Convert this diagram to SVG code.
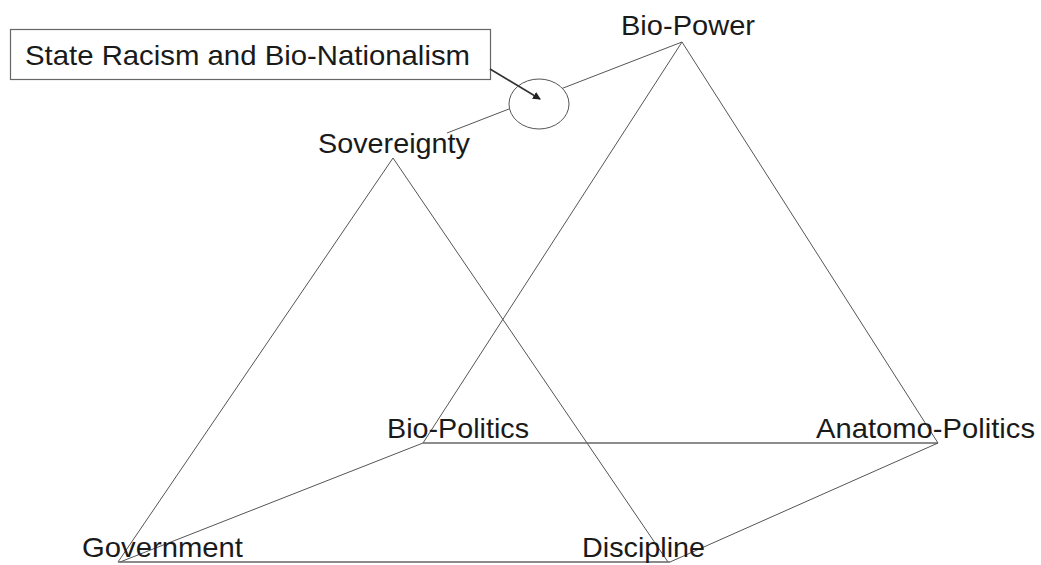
<svg xmlns="http://www.w3.org/2000/svg" width="1041" height="565" viewBox="0 0 1041 565">
<style>
.t{font-family:"Liberation Sans",Arial,sans-serif;font-size:28px;fill:#1a1a1a}
.c{stroke:#555;stroke-width:1;fill:none}
.h{stroke:#666;stroke-width:1.6;fill:none}
</style>
<defs>
<marker id="ah" markerWidth="8" markerHeight="8" refX="7" refY="4" orient="auto" markerUnits="userSpaceOnUse">
<path d="M0,0 L8,4 L0,8 z" fill="#222"/>
</marker>
</defs>
<rect width="1041" height="565" fill="#fff"/>
<g id="connectors">
<line class="c" x1="682" y1="42" x2="447" y2="133"/>
<line class="c" x1="393" y1="158" x2="118" y2="562"/>
<line class="c" x1="393" y1="158" x2="668" y2="562"/>
<line class="c" x1="682" y1="42" x2="423" y2="443"/>
<line class="c" x1="682" y1="42" x2="938" y2="443"/>
<line class="h" x1="423" y1="443" x2="938" y2="443"/>
<line class="c" x1="423" y1="443" x2="120" y2="562"/>
<line class="c" x1="938" y1="443" x2="670" y2="562"/>
<line class="h" x1="118" y1="562" x2="670" y2="562"/>
</g>
<g id="state-racism">
<rect x="10.5" y="29.5" width="480" height="50" fill="#fff" stroke="#666" stroke-width="1.2"/>
<text class="t" x="25" y="65" textLength="445" lengthAdjust="spacingAndGlyphs">State Racism and Bio-Nationalism</text>
</g>
<g id="intersection">
<ellipse cx="539" cy="104" rx="30" ry="25" fill="#fff" stroke="#555" stroke-width="1"/>
<line x1="490" y1="69" x2="540" y2="99" stroke="#333" stroke-width="1.6" marker-end="url(#ah)"/>
</g>
<g id="bio-power"><text class="t" x="621" y="35" textLength="134" lengthAdjust="spacingAndGlyphs">Bio-Power</text></g>
<g id="sovereignty"><text class="t" x="318" y="153" textLength="152" lengthAdjust="spacingAndGlyphs">Sovereignty</text></g>
<g id="bio-politics"><text class="t" x="387" y="438" textLength="142" lengthAdjust="spacingAndGlyphs">Bio-Politics</text></g>
<g id="anatomo-politics"><text class="t" x="816" y="438" textLength="219" lengthAdjust="spacingAndGlyphs">Anatomo-Politics</text></g>
<g id="government"><text class="t" x="82" y="557" textLength="161" lengthAdjust="spacingAndGlyphs">Government</text></g>
<g id="discipline"><text class="t" x="582" y="557" textLength="123" lengthAdjust="spacingAndGlyphs">Discipline</text></g>
</svg>
